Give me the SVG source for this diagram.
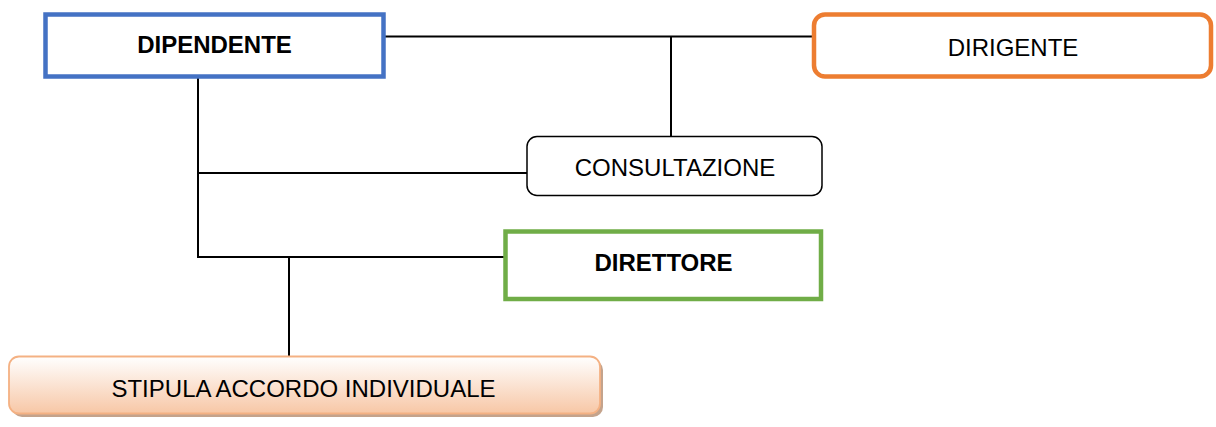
<svg xmlns="http://www.w3.org/2000/svg" width="1216" height="427" viewBox="0 0 1216 427">
<style>
text{font-family:"Liberation Sans",Arial,sans-serif;font-size:24px;fill:#000;text-anchor:middle}
.b{font-weight:bold}
.conn line{stroke:#000;stroke-width:2;fill:none}
</style>
<defs>
<linearGradient id="peach" x1="0" y1="0" x2="0" y2="1">
<stop offset="0" stop-color="#FFFFFF"/>
<stop offset="1" stop-color="#F7C7A6"/>
</linearGradient>
</defs>
<rect width="1216" height="427" fill="#fff"/>
<g class="conn">
<line x1="384" y1="36.5" x2="813" y2="36.5"/>
<line x1="671" y1="36.5" x2="671" y2="136"/>
<line x1="198" y1="77" x2="198" y2="257"/>
<line x1="197" y1="173" x2="527" y2="173"/>
<line x1="197" y1="257" x2="505" y2="257"/>
<line x1="289" y1="257" x2="289" y2="356"/>
</g>
<g id="dipendente">
<rect x="45.5" y="14.5" width="338" height="62" fill="#fff" stroke="#4472C4" stroke-width="4.5"/>
<text class="b" x="214.5" y="53">DIPENDENTE</text>
</g>
<g id="dirigente">
<rect x="814" y="14.5" width="397" height="62" rx="11" fill="#fff" stroke="#ED7D31" stroke-width="4.5"/>
<text x="1013" y="56">DIRIGENTE</text>
</g>
<g id="consultazione">
<rect x="527" y="136.5" width="295" height="59" rx="10" fill="#fff" stroke="#000" stroke-width="1.5"/>
<text x="675" y="176">CONSULTAZIONE</text>
</g>
<g id="direttore">
<rect x="505.5" y="231.5" width="315.5" height="67.5" fill="#fff" stroke="#70AD47" stroke-width="4.5"/>
<text class="b" x="663.5" y="271">DIRETTORE</text>
</g>
<g id="stipula">
<rect x="12" y="360" width="591" height="57" rx="10" fill="#C4A38C"/>
<rect x="9" y="356.5" width="591" height="57" rx="10" fill="url(#peach)" stroke="#F4B183" stroke-width="1.8"/>
<text x="303.5" y="397">STIPULA ACCORDO INDIVIDUALE</text>
</g>
</svg>
